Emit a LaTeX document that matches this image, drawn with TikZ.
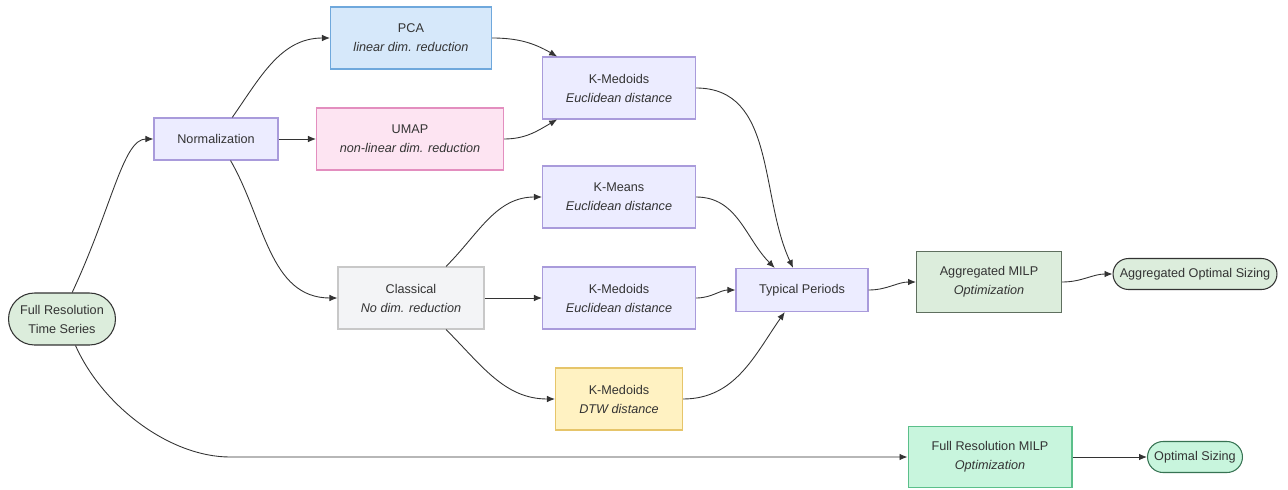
\documentclass[tikz,border=0pt]{standalone}
\usepackage{fontspec}
\setmainfont{Liberation Sans}
\usepackage{tikz}
\usepackage{xcolor}
\usetikzlibrary{shapes.misc, arrows.meta, positioning, calc}
\definecolor{cText}{HTML}{333333}
\definecolor{cLavFill}{HTML}{ECECFF}
\definecolor{cLavLine}{HTML}{A99BDB}
\definecolor{cBlueFill}{HTML}{D6E8FA}
\definecolor{cBlueLine}{HTML}{6FA8DC}
\definecolor{cPinkFill}{HTML}{FDE4F2}
\definecolor{cPinkLine}{HTML}{E38EBF}
\definecolor{cGrayFill}{HTML}{F3F4F6}
\definecolor{cGrayLine}{HTML}{C8C8C8}
\definecolor{cYelFill}{HTML}{FFF2C2}
\definecolor{cYelLine}{HTML}{E6C56A}
\definecolor{cSageFill}{HTML}{DCEDDC}
\definecolor{cSageLine}{HTML}{5F6F5F}
\definecolor{cMintFill}{HTML}{C8F5DD}
\definecolor{cMintLine}{HTML}{5BBF8A}
\tikzset{
	box/.style     ={rectangle, draw=cLavLine, fill=cLavFill, line width=0.6pt, align=center, text=cText, minimum height=1.24cm, inner sep=2pt},
	pill/.style    ={rounded rectangle, draw=cText, fill=cSageFill, line width=0.6pt, align=center, text=cText, minimum height=0.62cm, inner sep=2pt},
	flowarrow/.style={-{Latex[length=1.6mm, width=1.3mm]}, line width=0.5pt, draw=cText},
}

\begin{document}
\begin{tikzpicture}[x=0.02cm, y=-0.02cm, every node/.style={font=\fontsize{7.2}{10.8}\selectfont}]
	\useasboundingbox (0,0) rectangle (1288,490);
	% sources and preprocessing
	\node[pill, minimum width=2.28cm, minimum height=1.04cm] (frts) at (62,319) {Full Resolution\\Time Series};
	\node[box, minimum width=2.48cm, minimum height=0.84cm] (norm) at (216,139) {Normalization};
	\node[box, draw=cBlueLine, fill=cBlueFill, minimum width=3.22cm] (pca) at (411,38) {PCA\\\textit{linear dim. reduction}};
	\node[box, draw=cPinkLine, fill=cPinkFill, minimum width=3.74cm] (umap) at (410,139) {UMAP\\\textit{non-linear dim. reduction}};
	\node[box, draw=cGrayLine, fill=cGrayFill, minimum width=2.92cm] (classic) at (411,298) {Classical\\\textit{No dim. reduction}};
	% clustering
	\node[box, minimum width=3.06cm] (kmedtop) at (619,88) {K-Medoids\\\textit{Euclidean distance}};
	\node[box, minimum width=3.06cm] (kmeans) at (619,197) {K-Means\\\textit{Euclidean distance}};
	\node[box, minimum width=3.06cm] (kmedmid) at (619,298) {K-Medoids\\\textit{Euclidean distance}};
	\node[box, draw=cYelLine, fill=cYelFill, minimum width=2.54cm] (kmeddtw) at (619,399) {K-Medoids\\\textit{DTW distance}};
	\node[box, minimum width=2.64cm, minimum height=0.86cm] (typ) at (802,290) {Typical Periods};
	% optimization
	\node[box, draw=cSageLine, fill=cSageFill, minimum width=2.9cm, minimum height=1.22cm] (aggmilp) at (989,282) {Aggregated MILP\\\textit{Optimization}};
	\node[pill, minimum width=3.42cm] (aggsize) at (1195,274) {Aggregated Optimal Sizing};
	\node[box, draw=cMintLine, fill=cMintFill, minimum width=3.28cm, minimum height=1.22cm] (frmilp) at (990,457) {Full Resolution MILP\\\textit{Optimization}};
	\node[pill, draw=cMintLine!60!black, fill=cMintFill, minimum width=2.04cm] (optsize) at (1195,457) {Optimal Sizing};
	\coordinate (lowbend) at (230,457);

	\draw[flowarrow] (frts.69) to[out=65, in=180, out looseness=1.4, in looseness=0.45] (norm.west);
	\draw[flowarrow] (frts.-63) to[out=-66, in=180, out looseness=0.9, in looseness=0.8] (lowbend) -- (frmilp.west);
	\draw[flowarrow] (norm.53) to[out=55, in=180] (pca.west);
	\draw[flowarrow] (norm) -- (umap);
	\draw[flowarrow] (norm.-56) to[out=-60, in=180] (classic.west);
	\draw[flowarrow] (pca.east) to[out=0, in=150] (kmedtop.153);
	\draw[flowarrow] (umap.east) to[out=0, in=-150] (kmedtop.207);
	\draw[flowarrow] (classic.42) to[out=45, in=180] (kmeans.west);
	\draw[flowarrow] (classic) -- (kmedmid);
	\draw[flowarrow] (classic.-42) to[out=-45, in=180] (kmeddtw.west);
	\draw[flowarrow] (kmedtop.east) to[out=0, in=115] (typ.112);
	\draw[flowarrow] (kmeans.east) to[out=0, in=135] (typ.141);
	\draw[flowarrow] (kmedmid.east) to[out=0, in=180] (typ.west);
	\draw[flowarrow] (kmeddtw.east) to[out=0, in=-125] (typ.232);
	\draw[flowarrow] (typ.east) to[out=0, in=180] (aggmilp.west);
	\draw[flowarrow] (aggmilp.east) to[out=0, in=180] (aggsize.west);
	\draw[flowarrow] (frmilp) -- (optsize);
\end{tikzpicture}
\end{document}
